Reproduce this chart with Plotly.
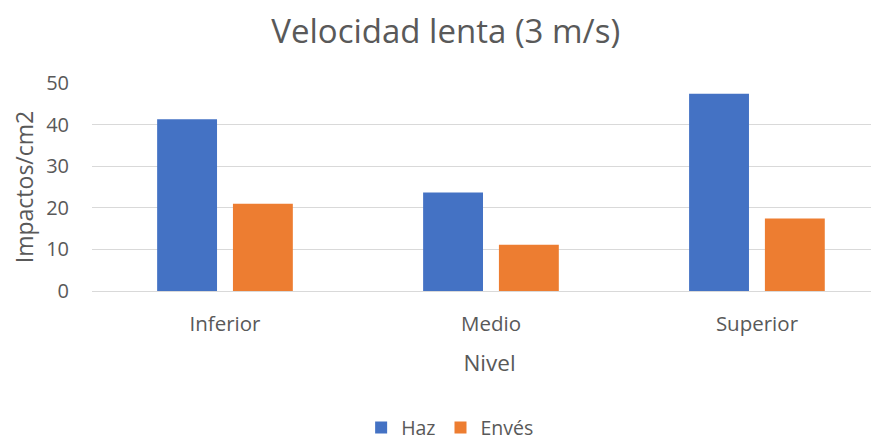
import plotly.graph_objects as go

categorias = ["Inferior", "Medio", "Superior"]
haz = [41.3, 23.7, 47.4]
enves = [21.0, 11.1, 17.4]
y_ticks = [0, 10, 20, 30, 40, 50]

FONT = "Open Sans"
GREY = "#595959"

fig = go.Figure()
fig.add_trace(go.Bar(name="Haz", x=categorias, y=haz, marker=dict(color="#4472C4", line=dict(width=0))))
fig.add_trace(go.Bar(name="Envés", x=categorias, y=enves, marker=dict(color="#ED7D31", line=dict(width=0))))

fig.update_layout(
    width=879, height=440,
    paper_bgcolor="white", plot_bgcolor="white",
    margin=dict(l=84, r=0, t=75, b=157, autoexpand=False),
    barmode="group", bargap=0.43, bargroupgap=0.21,
    font=dict(family=FONT, color=GREY, size=16),
    title=dict(text="Velocidad lenta (3 m/s)", x=0.498, xref="container", xanchor="center",
               y=0.946, yref="container", yanchor="middle",
               font=dict(size=33, color=GREY, family=FONT)),
    legend=dict(orientation="h", x=0.503, xanchor="center", xref="container",
                y=0.046, yref="container", yanchor="middle",
                font=dict(size=19.5, color=GREY), itemwidth=30, traceorder="normal"),
    showlegend=True,
)
fig.update_xaxes(
    range=[-0.5, 2.489], showgrid=False, showline=False, zeroline=False, automargin=False,
    ticks="outside", ticklen=14, tickcolor="rgba(0,0,0,0)",
    tickfont=dict(size=20.5, color=GREY),
    title=dict(text="Nivel", font=dict(size=22.5, color=GREY), standoff=19),
)
fig.update_yaxes(
    range=[0, 50], tickvals=y_ticks, showgrid=True, gridcolor="#D9D9D9", gridwidth=1,
    zeroline=True, zerolinecolor="#D9D9D9", zerolinewidth=1, showline=False, automargin=False,
    ticks="outside", ticklen=18, tickcolor="rgba(0,0,0,0)",
    tickfont=dict(size=20, color=GREY),
    title=dict(text="Impactos/cm2", font=dict(size=23, color=GREY), standoff=8),
)

fig.write_html("out.html")
